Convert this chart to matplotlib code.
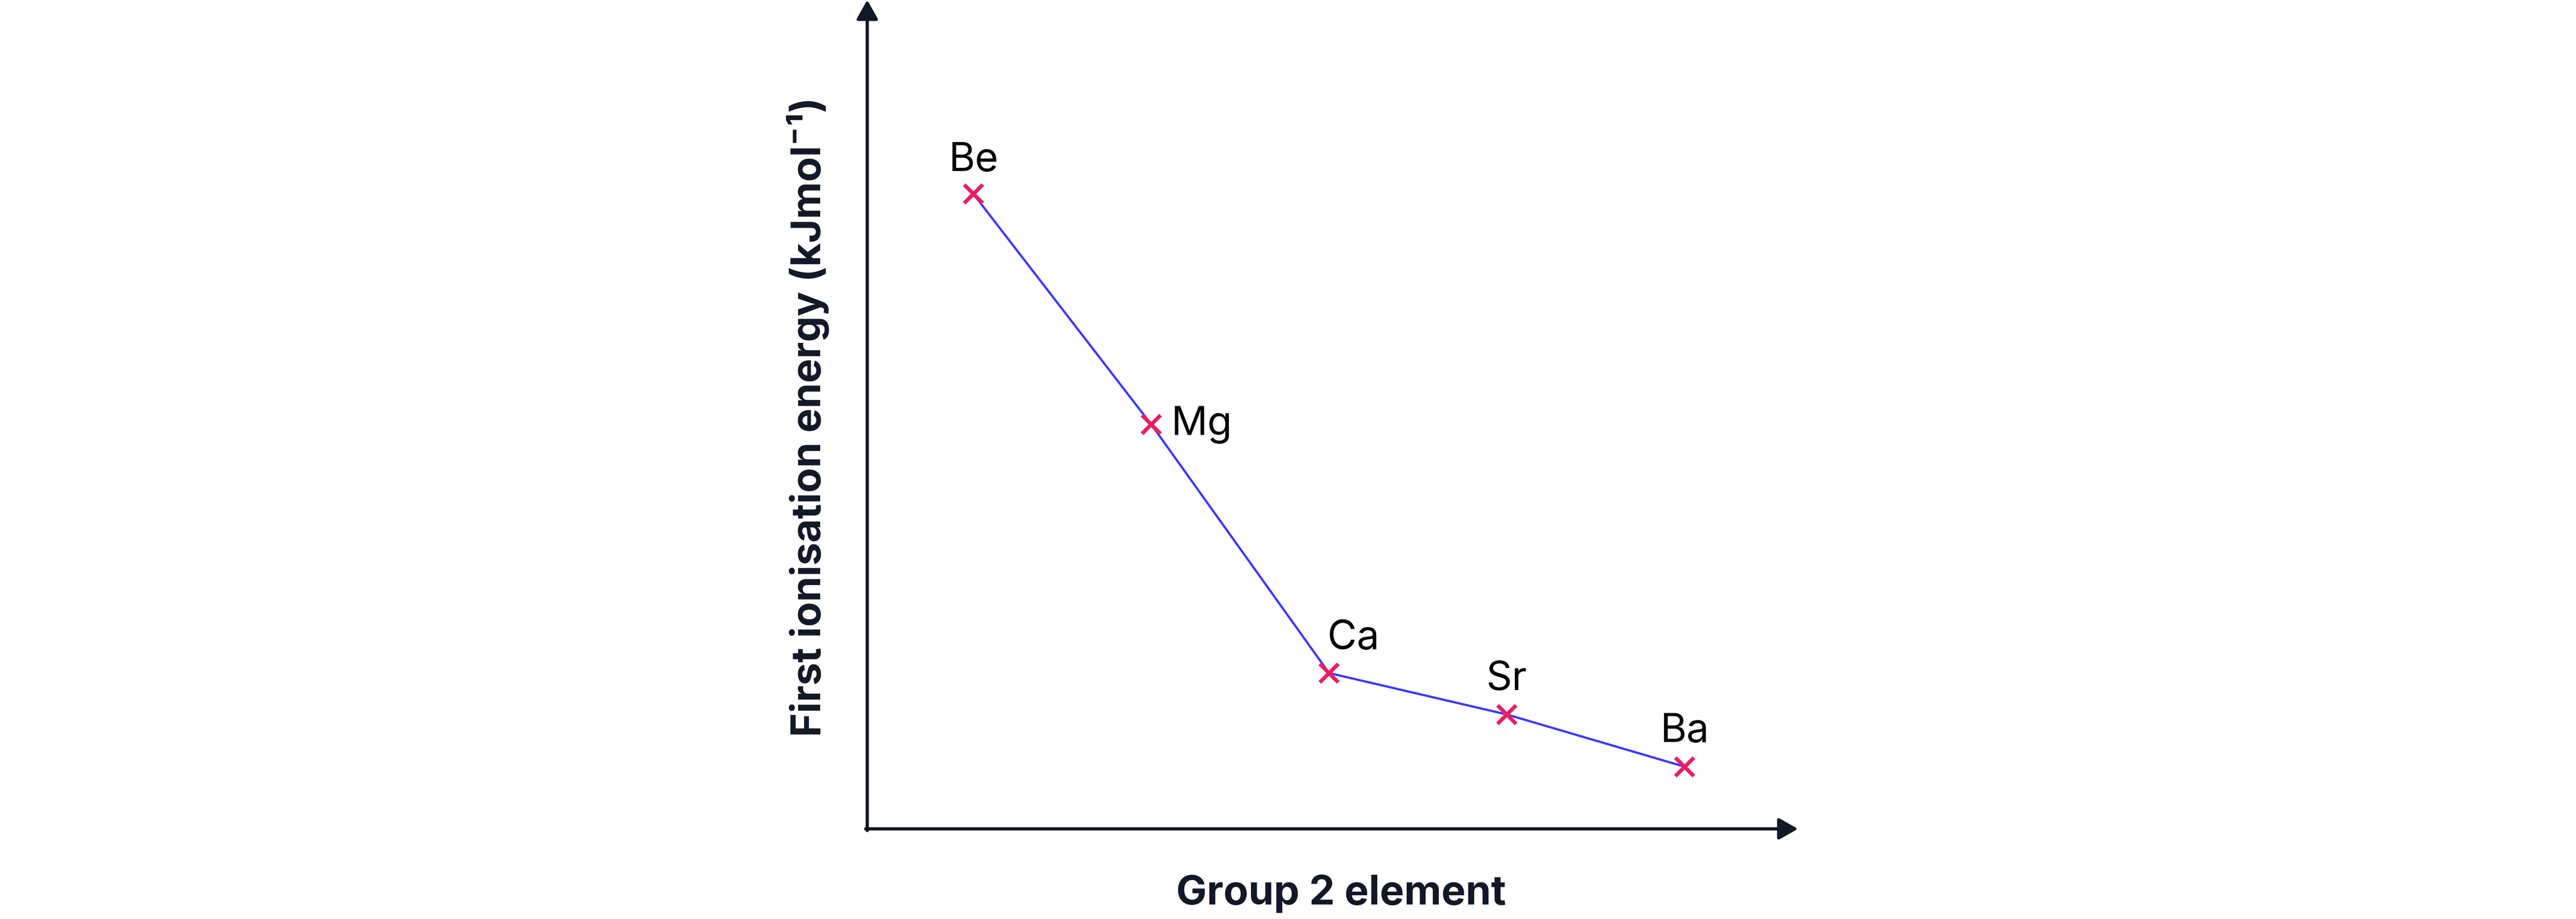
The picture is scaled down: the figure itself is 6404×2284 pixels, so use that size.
import matplotlib
matplotlib.use("Agg")
import matplotlib.pyplot as plt

# values (arbitrary units, axis has no ticks)
elements = ["Be", "Mg", "Ca", "Sr", "Ba"]
position = [1, 2, 3, 4, 5]
energy = [76.6, 48.8, 18.8, 13.8, 7.5]

W, H, DPI = 6404, 2284, 200
ink = "#111827"
line_col = "#3a3aff"
mark_col = "#ea1f63"

plt.rcParams["font.family"] = ["Inter", "DejaVu Sans"]

fig = plt.figure(figsize=(W / DPI, H / DPI), dpi=DPI)
# axes in pixel terms: origin at (2156, 2060), x arrow tip 4470, y arrow tip 0
x0, y0, x1, y1 = 2156, 2060, 4470, 0
ax = fig.add_axes([x0 / W, (H - y0) / H, (x1 - x0) / W, (y0 - y1) / H])
ax.set_xlim(0.403, 5.638)
ax.set_ylim(0, 100)
ax.set_xticks([])
ax.set_yticks([])
for s in ax.spines.values():
    s.set_visible(False)

px = 72 / DPI  # one pixel in points
arrow = dict(arrowstyle="-|>,head_length=0.4,head_width=0.225", mutation_scale=36,
             lw=8 * px, color=ink, shrinkA=0, shrinkB=0)
ax.annotate("", xy=(1, 0), xytext=(-4 / (x1 - x0), 0), xycoords="axes fraction",
            textcoords="axes fraction", arrowprops=arrow, annotation_clip=False)
ax.annotate("", xy=(0, 1), xytext=(0, -4 / (y0 - y1)), xycoords="axes fraction",
            textcoords="axes fraction", arrowprops=arrow, annotation_clip=False)

ax.plot(position, energy, color=line_col, lw=5.5 * px, zorder=3, clip_on=False)
ax.plot(position, energy, ls="none", marker="x", ms=47 * px, mew=9.5 * px,
        color=mark_col, zorder=4, clip_on=False)

# label offsets (pixels) relative to each marker
offsets = {"Be": (0, 58, "center"), "Mg": (49, -26, "left"), "Ca": (-4, 60, "left"),
           "Sr": (0, 61, "center"), "Ba": (0, 61, "center")}
for name, xv, yv in zip(elements, position, energy):
    dx, dy, ha = offsets[name]
    ax.annotate(name, (xv, yv), xytext=(dx * px, dy * px), textcoords="offset points",
                ha=ha, va="baseline", fontsize=36, color="black")

fig.text(3334 / W, (H - 2248) / H, "Group 2 element", ha="center", va="baseline",
         fontsize=36.5, fontweight="bold", color=ink)
fig.text(2040 / W, (H - 1036) / H, "First ionisation energy (kJmol\u207b\u00b9)",
         rotation=90, rotation_mode="anchor", ha="center", va="baseline",
         fontsize=36.5, fontweight="bold", color=ink)

fig.savefig("out.png", dpi=DPI, facecolor="white")
